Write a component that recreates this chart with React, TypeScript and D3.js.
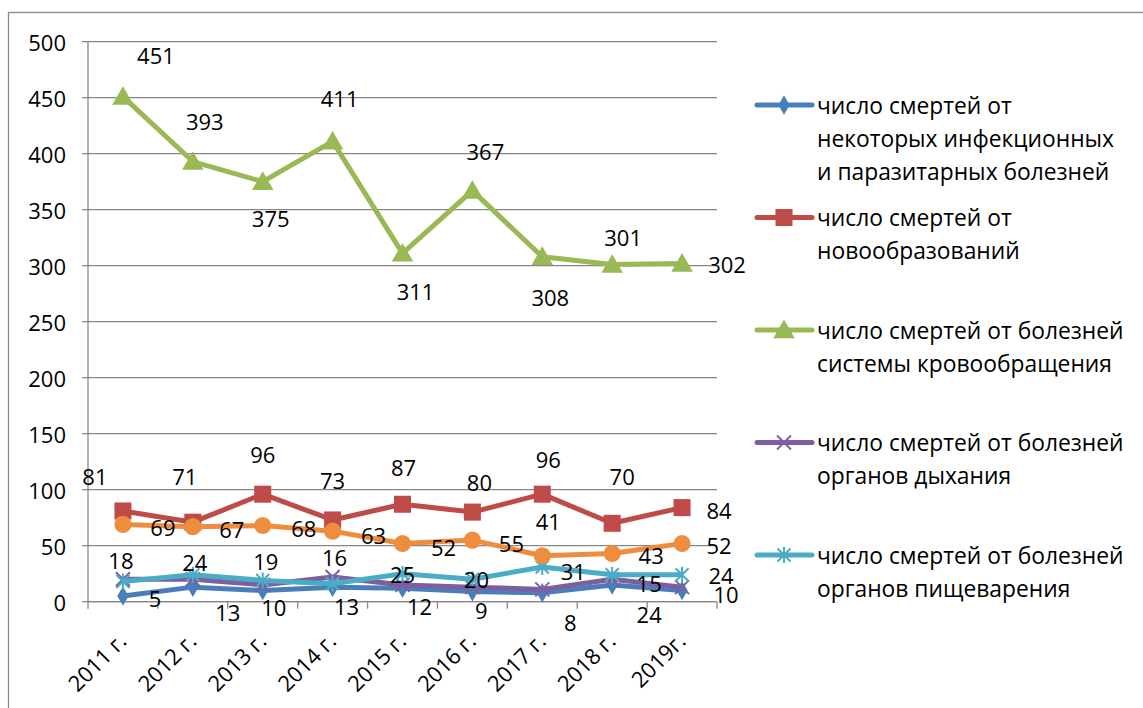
import React from "react";
import * as d3 from "d3";

const categories = ["2011 г.", "2012 г.", "2013 г.", "2014 г.", "2015 г.", "2016 г.", "2017 г.", "2018 г.", "2019г."];
const yTicks = [0, 50, 100, 150, 200, 250, 300, 350, 400, 450, 500];

const infectious = [5, 13, 10, 13, 12, 9, 8, 15, 10];
const neoplasms = [81, 71, 96, 73, 87, 80, 96, 70, 84];
const circulatory = [451, 393, 375, 411, 311, 367, 308, 301, 302];
const respiratory = [20, 20, 15, 22, 15, 13, 11, 20, 13];
const digestive = [18, 24, 19, 16, 25, 20, 31, 24, 24];
const external = [69, 67, 68, 63, 52, 55, 41, 43, 52];

const legendNames = [
  ["число смертей от", "некоторых инфекционных", "и паразитарных болезней"],
  ["число смертей от", "новообразований"],
  ["число смертей от болезней", "системы кровообращения"],
  ["число смертей от болезней", "органов дыхания"],
  ["число смертей от болезней", "органов пищеварения"],
];

// label placement offsets (dx, dy) relative to the point
const offInfectious = [[32, 2], [35, 25], [11, 16], [14, 19], [17, 18], [9, 18], [28, 29], [37, -2], [44, 3]];
const offNeoplasms = [[-28, -35], [-8, -46], [0, -40], [0, -40], [1, -37], [7, -30], [6, -35], [10, -47], [37, 2]];
const offCirculatory = [[33, -42], [12, -41], [8, 36], [7, -43], [13, 38], [13, -40], [8, 40], [11, -28], [45, 1]];
const offDigestive = [[-2, -22], [2, -13], [3, -19], [2, -27], [0, 0], [4, 0], [31, 4], [37, 39], [39, 0]];
const offExternal = [[40, 3], [39, 2], [41, 2], [41, 4], [41, 4], [39, 3], [6, -35], [39, 1], [37, 2]];

type Series = {
  values: number[];
  color: string;
  marker: string;
  offsets: number[][] | null;
  legend: number | null;
};

const series: Series[] = [
  { values: infectious, color: "#4A7EBB", marker: "diamond", offsets: offInfectious, legend: 0 },
  { values: neoplasms, color: "#BE4B48", marker: "square", offsets: offNeoplasms, legend: 1 },
  { values: circulatory, color: "#98B954", marker: "triangle", offsets: offCirculatory, legend: 2 },
  { values: respiratory, color: "#7D5FA0", marker: "x", offsets: null, legend: 3 },
  { values: digestive, color: "#4BACC6", marker: "asterisk", offsets: offDigestive, legend: 4 },
  { values: external, color: "#EE8D3E", marker: "circle", offsets: offExternal, legend: null },
];

const FONT = "'Open Sans', 'Noto Sans', sans-serif";

function Marker({ type, x, y, color }: { type: string; x: number; y: number; color: string }) {
  if (type === "diamond") {
    const p = d3.symbol().type(d3.symbolDiamond).size(110)();
    return <path d={p || ""} transform={`translate(${x},${y})`} fill={color} />;
  }
  if (type === "square") {
    const p = d3.symbol().type(d3.symbolSquare).size(290)();
    return <path d={p || ""} transform={`translate(${x},${y})`} fill={color} />;
  }
  if (type === "triangle") {
    const p = d3.symbol().type(d3.symbolTriangle).size(200)();
    return <path d={p || ""} transform={`translate(${x},${y + 2})`} fill={color} />;
  }
  if (type === "circle") {
    const p = d3.symbol().type(d3.symbolCircle).size(230)();
    return <path d={p || ""} transform={`translate(${x},${y})`} fill={color} />;
  }
  if (type === "x") {
    const r = 7;
    return (
      <path
        d={`M${x - r},${y - r}L${x + r},${y + r}M${x - r},${y + r}L${x + r},${y - r}`}
        stroke={color}
        strokeWidth={2}
        fill="none"
      />
    );
  }
  // asterisk
  const r = 8;
  const rd = 6.5;
  return (
    <path
      d={`M${x},${y - r}L${x},${y + r}M${x - rd},${y - rd}L${x + rd},${y + rd}M${x - rd},${y + rd}L${x + rd},${y - rd}`}
      stroke={color}
      strokeWidth={2}
      fill="none"
    />
  );
}

export default function App() {
  const W = 1143;
  const H = 708;
  const left = 88;
  const right = 717;
  const top = 41.7;
  const bottom = 601.7;

  const x = d3.scaleBand<string>().domain(categories).range([left, right]).padding(0);
  const cx = (c: string) => (x(c) as number) + x.bandwidth() / 2;
  const y = d3.scaleLinear().domain([0, 500]).range([bottom, top]);

  const line = d3
    .line<number>()
    .x((_, i) => cx(categories[i]))
    .y((d) => y(d));

  const boundaries = categories.map((c) => x(c) as number).concat([right]);
  const gridColor = "#878787";

  const legendX = 757;
  const legendY0 = 105;
  const legendStep = 112.5;
  const lineH = 33;

  return (
    <svg
      width={W}
      height={H}
      style={{ position: "absolute", left: 0, top: 0, background: "#fff" }}
      fontFamily={FONT}
    >
      <rect x={0} y={0} width={W} height={H} fill="#fff" />
      <rect x={8.5} y={12.5} width={W + 20} height={H + 20} fill="none" stroke="#8a8a8a" strokeWidth={1.3} />

      {/* gridlines & y ticks */}
      {yTicks.map((t) => (
        <g key={t}>
          <line x1={left - 6} x2={right} y1={y(t)} y2={y(t)} stroke={gridColor} strokeWidth={1.3} />
          <text x={66} y={y(t)} textAnchor="end" dominantBaseline="central" fontSize={22} fill="#000">
            {t}
          </text>
        </g>
      ))}
      <line x1={left} x2={left} y1={top} y2={bottom} stroke={gridColor} strokeWidth={1.3} />
      <line x1={left} x2={right} y1={bottom} y2={bottom} stroke={gridColor} strokeWidth={1.3} />
      {boundaries.map((b, i) => (
        <line key={i} x1={b} x2={b} y1={bottom} y2={bottom + 7} stroke={gridColor} strokeWidth={1.3} />
      ))}

      {/* x labels */}
      {categories.map((c) => (
        <text
          key={c}
          transform={`translate(${cx(c) + 5},${bottom + 41}) rotate(-45)`}
          textAnchor="end"
          fontSize={22}
          fill="#000"
        >
          {c}
        </text>
      ))}

      {/* series */}
      {series.map((s, si) => (
        <g key={si}>
          <path d={line(s.values) || ""} fill="none" stroke={s.color} strokeWidth={5} strokeLinejoin="round" />
          {s.values.map((v, i) => (
            <Marker key={i} type={s.marker} x={cx(categories[i])} y={y(v)} color={s.color} />
          ))}
        </g>
      ))}

      {/* data labels */}
      {series.map((s, si) =>
        s.offsets
          ? s.values.map((v, i) => (
              <text
                key={`${si}-${i}`}
                x={cx(categories[i]) + s.offsets![i][0]}
                y={y(v) + s.offsets![i][1]}
                textAnchor="middle"
                dominantBaseline="central"
                fontSize={22}
                fill="#000"
              >
                {v}
              </text>
            ))
          : null
      )}

      {/* legend */}
      {series
        .filter((s) => s.legend !== null)
        .map((s) => {
          const ly = legendY0 + (s.legend as number) * legendStep;
          return (
            <g key={s.legend as number}>
              <line x1={legendX} x2={legendX + 55} y1={ly} y2={ly} stroke={s.color} strokeWidth={5} strokeLinecap="round" />
              <Marker type={s.marker} x={legendX + 27} y={ly} color={s.color} />
              {legendNames[s.legend as number].map((t, k) => (
                <text key={k} x={817} y={ly + k * lineH} dominantBaseline="central" fontSize={22.8} fill="#000">
                  {t}
                </text>
              ))}
            </g>
          );
        })}
    </svg>
  );
}
